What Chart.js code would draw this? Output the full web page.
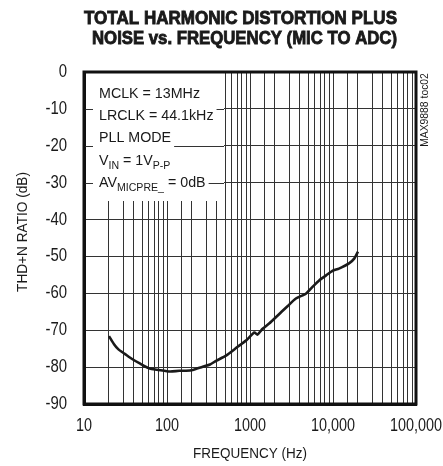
<!DOCTYPE html>
<html>
<head>
<meta charset="utf-8">
<script src="https://cdn.jsdelivr.net/npm/chart.js@4/dist/chart.umd.min.js"></script>
<style>
  html, body { margin: 0; padding: 0; background: #fff; }
  #chart { display: block; }
</style>
</head>
<body>
<canvas id="chart" width="443" height="466"></canvas>
<script>
// data
const freqHz = [20, 23, 26, 31, 38, 47, 62, 75, 93, 110, 141, 170, 204, 269, 330, 390, 514, 710, 895, 1130, 1230, 1420, 1700, 2050, 2400, 2830, 3570, 4710, 5700, 6810, 8200, 9840, 11800, 15600, 18000, 20000];
const thdN = [-71.6, -73.8, -75.2, -76.4, -77.8, -79.0, -80.4, -80.7, -81.0, -81.2, -81.0, -81.0, -80.8, -79.9, -79.3, -78.3, -76.9, -74.5, -72.8, -70.6, -71.2, -69.6, -68.2, -66.5, -65.0, -63.5, -61.4, -60.1, -58.2, -56.5, -55.2, -53.9, -53.3, -51.9, -50.6, -48.7];
const yTicks = [0, -10, -20, -30, -40, -50, -60, -70, -80, -90];
const xDecades = [10, 100, 1000, 10000, 100000];
const xLabels = ['10', '100', '1000', '10,000', '100,000'];
const titleLines = ['TOTAL HARMONIC DISTORTION PLUS', 'NOISE vs. FREQUENCY (MIC TO ADC)'];
const noteLines = [
  [['MCLK = 13MHz']],
  [['LRCLK = 44.1kHz']],
  [['PLL MODE']],
  [['V'], ['IN', 1], [' = 1V'], ['P-P', 1]],
  [['AV'], ['MICPRE_', 1], [' = 0dB']]
];

const FONT = "'Liberation Sans', Arial, Helvetica, sans-serif";
const INK = '#1a1a1a';

// condensed text: the reference uses a narrow face, so squeeze a normal one
function narrowText(ctx, str, x, y, size, sx, align, weight, heavy) {
  ctx.save();
  ctx.font = (weight || '') + ' ' + size + 'px ' + FONT;
  ctx.textAlign = align || 'left';
  ctx.textBaseline = 'middle';
  ctx.translate(x, y);
  ctx.scale(sx, 1);
  ctx.fillText(str, 0, 0);
  if (heavy) {
    ctx.strokeStyle = ctx.fillStyle;
    ctx.lineWidth = heavy;
    ctx.strokeText(str, 0, 0);
  }
  ctx.restore();
}

function fitText(ctx, str, cx, y, size, width, weight) {
  ctx.font = weight + ' ' + size + 'px ' + FONT;
  const sx = width / ctx.measureText(str).width;
  narrowText(ctx, str, cx, y, size, sx, 'center', weight, 0.9);
}

const NOTE_SX = 0.92;

const decorPlugin = {
  id: 'decor',
  beforeDatasetsDraw(chart) {
    const { ctx, chartArea: a, scales: { y } } = chart;
    ctx.save();
    // blank the vertical grid behind the notes
    ctx.fillStyle = '#fff';
    ctx.fillRect(a.left + 2, a.top + 1, 222 - a.left, 200 - a.top);
    // horizontal grid lines stay visible outside the text boxes
    ctx.strokeStyle = '#333';
    ctx.lineWidth = 1;
    [-10, -20, -30].forEach(v => {
      const py = Math.round(y.getPixelForValue(v)) + 0.5;
      ctx.beginPath();
      ctx.moveTo(a.left, py);
      ctx.lineTo(224, py);
      ctx.stroke();
    });
    // note lines on white boxes
    noteLines.forEach((segs, i) => {
      const mid = 93.5 + i * 22.3;
      let w = 0;
      segs.forEach(s => {
        ctx.font = (s[1] ? '11.5px ' : '15.5px ') + FONT;
        w += ctx.measureText(s[0]).width * NOTE_SX;
      });
      ctx.fillStyle = '#fff';
      ctx.fillRect(93, mid - 10, w + 9, 21);
      ctx.fillStyle = INK;
      let x = 99;
      segs.forEach(s => {
        const size = s[1] ? 11.5 : 15.5;
        narrowText(ctx, s[0], x, mid + (s[1] ? 5 : 0), size, NOTE_SX);
        ctx.font = size + 'px ' + FONT;
        x += ctx.measureText(s[0]).width * NOTE_SX;
      });
    });
    ctx.restore();
  },
  afterDraw(chart) {
    const { ctx, chartArea: a, scales: { x, y } } = chart;
    ctx.save();
    ctx.strokeStyle = '#111';
    ctx.lineWidth = 3;
    ctx.strokeRect(a.left, a.top, a.right - a.left, a.bottom - a.top);

    ctx.fillStyle = INK;
    // tick labels placed by the scales
    yTicks.forEach(v => narrowText(ctx, String(v), 67, y.getPixelForValue(v), 18, 0.83, 'right'));
    xDecades.forEach((v, i) => narrowText(ctx, xLabels[i], x.getPixelForValue(v), 426.5, 18, 0.8, 'center'));

    fitText(ctx, titleLines[0], 240.5, 19, 19, 313, 'bold');
    fitText(ctx, titleLines[1], 244.5, 38.5, 19, 305, 'bold');

    narrowText(ctx, 'FREQUENCY (Hz)', (a.left + a.right) / 2, 453.5, 15.5, 0.87, 'center');

    ctx.save();
    ctx.translate(22.5, 232);
    ctx.rotate(-Math.PI / 2);
    narrowText(ctx, 'THD+N RATIO (dB)', 0, 0, 15.5, 0.88, 'center');
    ctx.restore();

    ctx.save();
    ctx.translate(425, 110);
    ctx.rotate(-Math.PI / 2);
    narrowText(ctx, 'MAX9888 toc02', 0, 0, 11.5, 0.9, 'center');
    ctx.restore();
    ctx.restore();
  }
};

const ctx = document.getElementById('chart').getContext('2d');
new Chart(ctx, {
  type: 'scatter',
  data: {
    datasets: [{
      data: freqHz.map((f, i) => ({ x: f, y: thdN[i] })),
      showLine: true,
      borderColor: INK,
      borderWidth: 2.6,
      pointRadius: 0,
      tension: 0.2
    }]
  },
  options: {
    responsive: false,
    animation: false,
    layout: { padding: { top: 72, right: 27, left: 0, bottom: 0 } },
    plugins: { legend: { display: false }, tooltip: { enabled: false } },
    scales: {
      x: {
        type: 'logarithmic',
        min: 10,
        max: 100000,
        afterFit(s) { s.height = 62; },
        grid: { color: '#333', lineWidth: 1, drawTicks: false },
        border: { color: '#111', width: 3 },
        ticks: { display: false, autoSkip: false }
      },
      y: {
        min: -90,
        max: 0,
        afterFit(s) { s.width = 84; },
        afterBuildTicks(s) { s.ticks = yTicks.map(v => ({ value: v })); },
        grid: { color: '#333', lineWidth: 1, drawTicks: false },
        border: { color: '#111', width: 3 },
        ticks: { display: false }
      }
    }
  },
  plugins: [decorPlugin]
});
</script>
</body>
</html>
